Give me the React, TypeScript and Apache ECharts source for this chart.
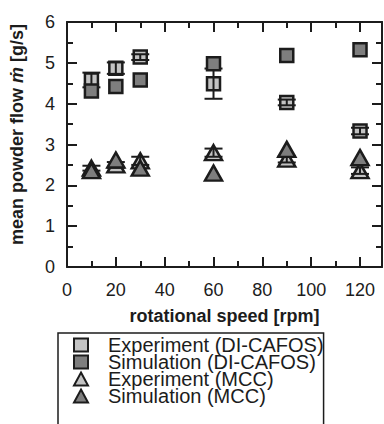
import React, { useEffect, useRef } from "react";
import * as echarts from "echarts";

const speeds = [10, 20, 30, 60, 90, 120];
const expDI = [4.58, 4.87, 5.14, 4.49, 4.03, 3.33];
const expDIErr = [0.18, 0.14, 0.07, 0.37, 0.07, 0.08];
const simDI = [4.31, 4.42, 4.58, 4.98, 5.18, 5.32];
const expMCC = [2.42, 2.5, 2.6, 2.8, 2.64, 2.36];
const expMCCErr = [0.06, 0.07, 0.1, 0.1, 0.08, 0.08];
const simMCC = [2.36, 2.62, 2.42, 2.3, 2.88, 2.68];

const legendNames = [
  "Experiment (DI-CAFOS)",
  "Simulation (DI-CAFOS)",
  "Experiment (MCC)",
  "Simulation (MCC)",
];

const FONT = "Liberation Sans, Arial, sans-serif";
const INK = "#1c1c1c";
const LIGHT = "#c3c3c3";
const DARK = "#7e7e7e";

function pts(vals: number[]) {
  return speeds.map((s, i) => [s, vals[i]]);
}
function errs(vals: number[], e: number[]) {
  return speeds.map((s, i) => [s, vals[i] - e[i], vals[i] + e[i]]);
}

const errRender = (params: any, api: any) => {
  const x = api.value(0);
  const lo = api.coord([x, api.value(1)]);
  const hi = api.coord([x, api.value(2)]);
  const hw = 9;
  const st = { stroke: INK, lineWidth: 2 };
  return {
    type: "group",
    children: [
      { type: "line", shape: { x1: lo[0], y1: lo[1], x2: hi[0], y2: hi[1] }, style: st },
      { type: "line", shape: { x1: lo[0] - hw, y1: lo[1], x2: lo[0] + hw, y2: lo[1] }, style: st },
      { type: "line", shape: { x1: hi[0] - hw, y1: hi[1], x2: hi[0] + hw, y2: hi[1] }, style: st },
    ],
  };
};

export default function App() {
  const ref = useRef<HTMLDivElement>(null);
  useEffect(() => {
    if (!ref.current) return;
    const chart = echarts.init(ref.current, undefined, { renderer: "svg" });
    const axisLine = { show: true, onZero: false, lineStyle: { color: INK, width: 2 } };
    const axisTick = { show: true, inside: true, length: 10, lineStyle: { color: INK, width: 2 } };
    const minorTick = { show: true, splitNumber: 2, length: 6, lineStyle: { color: INK, width: 2 } };
    const xBase: any = {
      type: "value",
      min: 0,
      max: 129,
      interval: 20,
      axisLine,
      axisTick,
      minorTick,
      splitLine: { show: false },
    };
    const yBase: any = {
      type: "value",
      min: 0,
      max: 6,
      interval: 1,
      axisLine,
      axisTick,
      minorTick,
      splitLine: { show: false },
    };
    const symStyle = (c: string) => ({ color: c, borderColor: INK, borderWidth: 2.5, opacity: 1 });
    chart.setOption({
      animation: false,
      backgroundColor: "#ffffff",
      grid: { left: 63, top: 22, width: 319, height: 245 },
      xAxis: [
        {
          ...xBase,
          position: "bottom",
          name: "rotational speed [rpm]",
          nameLocation: "middle",
          nameGap: 40,
          nameTextStyle: { fontFamily: FONT, fontSize: 18, fontWeight: "bold", color: INK },
          axisLabel: {
            fontFamily: FONT,
            fontSize: 18,
            color: INK,
            margin: 14,
            showMaxLabel: false,
            formatter: (v: number) => (v % 20 === 0 ? String(v) : ""),
          },
        },
        { ...xBase, position: "top", axisLabel: { show: false } },
      ],
      yAxis: [
        {
          ...yBase,
          position: "left",
          name: "{b|mean powder flow }{i|ṁ}{b| [g/s]}",
          nameLocation: "middle",
          nameGap: 41,
          nameTextStyle: {
            fontFamily: FONT,
            fontSize: 18,
            fontWeight: "bold",
            color: INK,
            padding: [0, 0, 0, 20],
            rich: {
              b: { fontFamily: FONT, fontSize: 18, fontWeight: "bold", color: INK },
              i: { fontFamily: FONT, fontSize: 18, fontWeight: "bold", fontStyle: "italic", color: INK },
            },
          },
          axisLabel: { fontFamily: FONT, fontSize: 18, color: INK, margin: 12 },
        },
        { ...yBase, position: "right", axisLabel: { show: false } },
      ],
      legend: {
        orient: "vertical",
        left: 58,
        top: 333,
        height: 300,
        data: legendNames,
        itemWidth: 14,
        itemHeight: 13,
        itemGap: -3,
        padding: [2, 0, 40, 15],
        borderColor: INK,
        borderWidth: 1.5,
        itemStyle: { borderColor: INK, borderWidth: 2 },
        textStyle: {
          fontFamily: FONT,
          fontSize: 20,
          color: INK,
          lineHeight: 17,
          padding: [0, 0, 0, 15],
        },
      },
      series: [
        {
          name: legendNames[0],
          type: "scatter",
          symbol: "rect",
          symbolSize: 13,
          itemStyle: symStyle(LIGHT),
          data: pts(expDI),
          z: 2,
        },
        {
          name: "errDI",
          type: "custom",
          renderItem: errRender,
          data: errs(expDI, expDIErr),
          z: 3,
        },
        {
          name: legendNames[1],
          type: "scatter",
          symbol: "rect",
          symbolSize: 13,
          itemStyle: symStyle(DARK),
          data: pts(simDI),
          z: 4,
        },
        {
          name: legendNames[2],
          type: "scatter",
          symbol: "triangle",
          symbolSize: [17, 15],
          itemStyle: symStyle(LIGHT),
          data: pts(expMCC),
          z: 5,
        },
        {
          name: "errMCC",
          type: "custom",
          renderItem: errRender,
          data: errs(expMCC, expMCCErr),
          z: 6,
        },
        {
          name: legendNames[3],
          type: "scatter",
          symbol: "triangle",
          symbolSize: [17, 15],
          itemStyle: symStyle(DARK),
          data: pts(simMCC),
          z: 7,
        },
      ],
    });
    return () => chart.dispose();
  }, []);
  return (
    <div
      ref={ref}
      style={{ position: "fixed", left: 0, top: 0, width: 384, height: 424, background: "#fff" }}
    />
  );
}
